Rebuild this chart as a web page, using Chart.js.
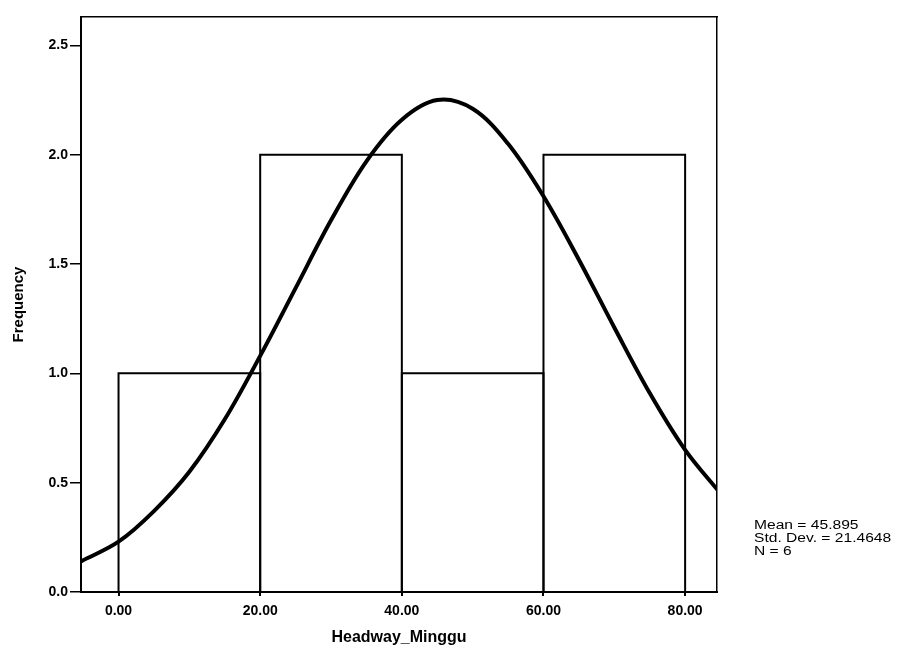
<!DOCTYPE html>
<html>
<head>
<meta charset="utf-8">
<script src="https://cdn.jsdelivr.net/npm/chart.js@4.4.0/dist/chart.umd.min.js"></script>
<style>
html, body { margin: 0; padding: 0; background: #fff; }
#wrap { width: 904px; height: 651px; }
</style>
</head>
<body>
<div id="wrap"><canvas id="histogram"></canvas></div>
<script>
// histogram bins for Headway_Minggu
const binEdges = [0, 20, 40, 60, 80];
const frequencies = [1, 2, 1, 2];

// normal curve
const curveX = [-5.3, 0, 5, 10, 15, 20, 25, 30, 35, 40, 45, 50, 55, 60, 65, 70, 75, 80, 85];
const curveY = [0.14, 0.23, 0.37, 0.55, 0.79, 1.08, 1.39, 1.70, 1.97, 2.16, 2.25, 2.21, 2.05, 1.81, 1.52, 1.21, 0.91, 0.65, 0.45];

const xTicks = [0, 20, 40, 60, 80];
const yTicks = [0, 0.5, 1.0, 1.5, 2.0, 2.5];

const statsLines = ['Mean = 45.895', 'Std. Dev. = 21.4648', 'N = 6'];

const FONT = '"Liberation Sans", Arial, sans-serif';

// one closed outline per bar
const barSets = frequencies.map((f, i) => ({
    data: [
        { x: binEdges[i], y: 0 },
        { x: binEdges[i], y: f },
        { x: binEdges[i + 1], y: f },
        { x: binEdges[i + 1], y: 0 }
    ],
    showLine: true,
    borderColor: '#000',
    borderWidth: 2,
    pointRadius: 0,
    tension: 0,
    fill: false
}));

const curveSet = {
    data: curveX.map((x, i) => ({ x: x, y: curveY[i] })),
    showLine: true,
    borderColor: '#000',
    borderWidth: 4,
    pointRadius: 0,
    tension: 0.35,
    fill: false
};

// stats box on the right
const statsText = {
    id: 'statsText',
    afterDraw(chart) {
        const ctx = chart.ctx;
        const area = chart.chartArea;
        ctx.save();
        ctx.font = '12px ' + FONT;
        ctx.fillStyle = '#000';
        ctx.textBaseline = 'middle';
        statsLines.forEach((line, i) => {
            ctx.save();
            ctx.translate(area.right + 37, area.bottom - 66 + i * 13);
            ctx.scale(1.3, 1);
            ctx.fillText(line, 0, 0);
            ctx.restore();
        });
        ctx.restore();
    }
};

const frameAxis = (pos) => ({
    type: 'linear',
    position: pos,
    min: pos === 'top' ? -5.3 : 0,
    max: pos === 'top' ? 84.5 : 2.63,
    ticks: { display: false },
    grid: { display: false },
    border: { display: true, color: '#000', width: 1.5 },
    afterFit(scale) {
        if (pos === 'top') scale.height = 0; else scale.width = 0;
    }
});

new Chart(document.getElementById('histogram'), {
    type: 'scatter',
    data: { datasets: [...barSets, curveSet] },
    options: {
        responsive: true,
        maintainAspectRatio: false,
        animation: false,
        layout: { padding: { top: 17, right: 187, left: 0, bottom: 0 } },
        plugins: {
            legend: { display: false },
            tooltip: { enabled: false }
        },
        scales: {
            x: {
                type: 'linear',
                min: -5.3,
                max: 84.5,
                afterBuildTicks(scale) {
                    scale.ticks = xTicks.map(v => ({ value: v }));
                },
                ticks: {
                    callback: v => v.toFixed(2),
                    color: '#000',
                    font: { family: FONT, size: 14, weight: 'bold' },
                    maxRotation: 0,
                    padding: 7
                },
                grid: { display: true, drawOnChartArea: false, tickLength: 4, color: '#000', lineWidth: 2 },
                border: { display: true, color: '#000', width: 2 },
                title: {
                    display: true,
                    text: 'Headway_Minggu',
                    color: '#000',
                    font: { family: FONT, size: 16, weight: 'bold' },
                    padding: { top: 0, bottom: 4 }
                },
                afterFit(scale) { scale.height = 59; }
            },
            y: {
                type: 'linear',
                min: 0,
                max: 2.63,
                afterBuildTicks(scale) {
                    scale.ticks = yTicks.map(v => ({ value: v }));
                },
                ticks: {
                    callback: v => v.toFixed(1),
                    color: '#000',
                    font: { family: FONT, size: 14, weight: 'bold' },
                    padding: 2
                },
                grid: { display: true, drawOnChartArea: false, tickLength: 11, color: '#000', lineWidth: 1.5 },
                border: { display: true, color: '#000', width: 2 },
                title: {
                    display: true,
                    text: 'Frequency',
                    color: '#000',
                    font: { family: FONT, size: 15, weight: 'bold' },
                    padding: { top: 10, bottom: 0 }
                },
                afterFit(scale) { scale.width = 81; }
            },
            xTop: frameAxis('top'),
            yRight: frameAxis('right')
        }
    },
    plugins: [statsText]
});
</script>
</body>
</html>
